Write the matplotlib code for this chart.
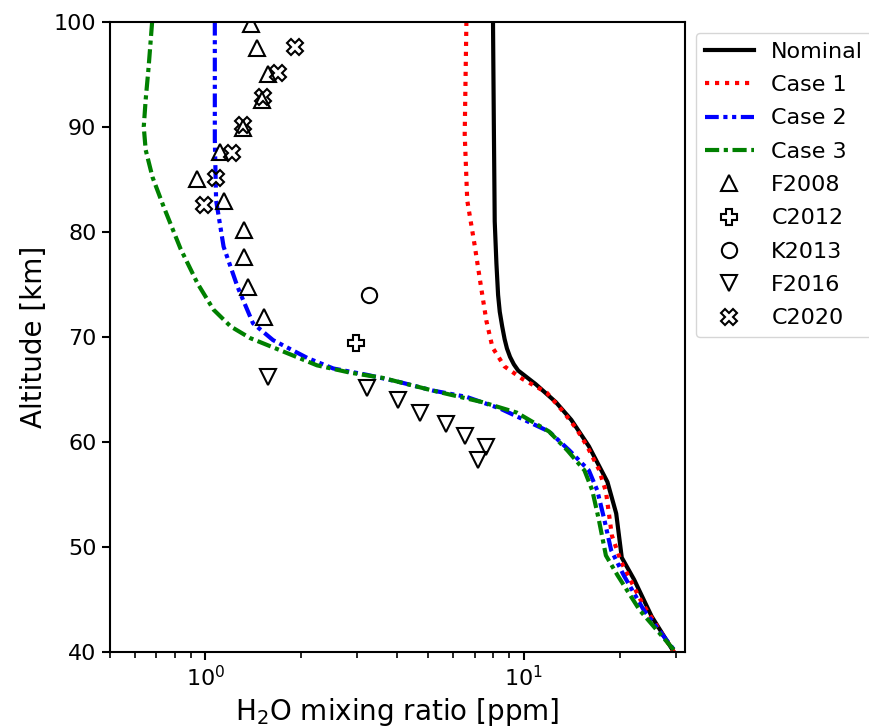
import numpy as np
import matplotlib
matplotlib.use("Agg")
import matplotlib.pyplot as plt

# model profiles (altitude km, H2O ppm)
nom_alt = [100, 90, 81, 77, 74, 72.4, 71, 69.8, 68.9, 68.1, 67.4, 66.8, 65.5, 63.8, 62.1, 59.6, 56.2, 53.2, 49, 46.9, 43.4, 40]
nom_h2o = [8.0, 8.05, 8.1, 8.2, 8.3, 8.4, 8.55, 8.7, 8.85, 9.05, 9.3, 9.6, 10.9, 12.6, 14.1, 16.0, 18.3, 19.5, 20.3, 22.2, 25.2, 29.6]

c1_alt = [100, 89.3, 83, 78.8, 74.5, 71.5, 69, 67.2, 66, 64.7, 63, 61.3, 59.6, 57.4, 55.3, 51.1, 48.6, 44.7, 40]
c1_h2o = [6.6, 6.52, 6.64, 7.0, 7.36, 7.63, 7.97, 8.69, 9.9, 11.8, 13.2, 14.6, 15.8, 17.2, 18.1, 18.9, 20.2, 23.5, 29.6]

c2_alt = [100, 88.8, 83, 78.6, 74.8, 71.3, 69.7, 68, 67, 66.4, 65.7, 64.9, 64.3, 63.2, 61, 59.2, 57.3, 55.4, 52.6, 49.7, 47.3, 44, 40]
c2_h2o = [1.07, 1.07, 1.08, 1.14, 1.26, 1.41, 1.63, 2.09, 2.52, 3.21, 4.08, 5.17, 6.6, 8.4, 12.0, 13.9, 16.0, 17.0, 17.9, 18.8, 20.6, 23.8, 30]

c3_alt = [100, 95.7, 92.6, 90, 87.8, 85.2, 82.4, 78.4, 75.1, 72.6, 71, 69.9, 68.6, 67.3, 66.6, 66.1, 64.9, 63.8, 62.8, 61, 59.2, 57.3, 55.4, 52.6, 49.2, 47.3, 44, 40]
c3_h2o = [0.68, 0.663, 0.649, 0.64, 0.649, 0.682, 0.739, 0.835, 0.944, 1.06, 1.2, 1.38, 1.76, 2.24, 2.85, 3.61, 5.17, 7.4, 9.5, 12.0, 13.7, 15.5, 16.4, 17.2, 18.1, 19.7, 23.1, 30]

# observations
f2008_h2o = [1.39, 1.45, 1.57, 1.51, 1.31, 1.11, 0.944, 1.14, 1.32, 1.32, 1.36, 1.53]
f2008_alt = [99.8, 97.5, 95, 92.6, 89.9, 87.6, 85, 82.9, 80.2, 77.6, 74.8, 71.9]
c2012_h2o = [2.97]
c2012_alt = [69.4]
k2013_h2o = [3.26]
k2013_alt = [74]
f2016_h2o = [1.57, 3.21, 4.02, 4.71, 5.69, 6.52, 7.6, 7.2]
f2016_alt = [66.2, 65.1, 64, 62.8, 61.7, 60.6, 59.5, 58.3]
c2020_h2o = [1.91, 1.69, 1.52, 1.31, 1.21, 1.08, 0.986]
c2020_alt = [97.6, 95.1, 92.8, 90.2, 87.5, 85.1, 82.6]

fig = plt.figure(figsize=(8.7, 7.27), dpi=100)
ax = fig.add_axes([0.126, 0.103, 0.661, 0.867])

lw = 3.0
ax.plot(nom_h2o, nom_alt, color='black', lw=lw, label='Nominal')
ax.plot(c1_h2o, c1_alt, color='red', lw=lw, ls=(0, (1, 1.4)), label='Case 1')
ax.plot(c2_h2o, c2_alt, color='blue', lw=lw, ls=(0, (3.3, 1.1, 1, 1.1, 1, 1.1)), label='Case 2')
ax.plot(c3_h2o, c3_alt, color='green', lw=lw, ls=(0, (3.4, 1.1, 1, 1.1)), label='Case 3')

mk = dict(ls='none', mfc='none', mec='black', mew=1.5, ms=11)
ax.plot(f2008_h2o, f2008_alt, marker='^', label='F2008', **mk)
ax.plot(c2012_h2o, c2012_alt, marker='P', label='C2012', **mk)
ax.plot(k2013_h2o, k2013_alt, marker='o', label='K2013', **mk)
ax.plot(f2016_h2o, f2016_alt, marker='v', label='F2016', **mk)
ax.plot(c2020_h2o, c2020_alt, marker='X', label='C2020', **mk)

ax.set_xscale('log')
ax.set_xlim(0.5, 32)
ax.set_ylim(40, 100)
ax.set_xlabel('H$_2$O mixing ratio [ppm]', fontsize=20)
ax.set_ylabel('Altitude [km]', fontsize=20)
ax.tick_params(labelsize=16, width=1.5, length=6)
ax.tick_params(which='minor', width=1.2, length=4)
for s in ax.spines.values():
    s.set_linewidth(1.5)

ax.legend(loc='upper left', bbox_to_anchor=(1, 1), fontsize=16,
          handlelength=2.2, labelspacing=0.6)

fig.savefig('out.png', dpi=100)
